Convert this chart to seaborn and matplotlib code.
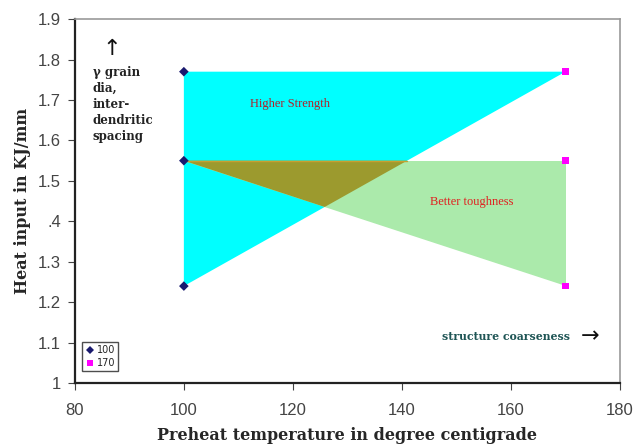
import numpy as np
import pandas as pd
import seaborn as sns
import matplotlib.pyplot as plt

# preheat temperatures and heat input levels
temps = [100, 170]
heat_inputs = [1.77, 1.55, 1.24]
y_ticks = [1.0, 1.1, 1.2, 1.3, 1.4, 1.5, 1.6, 1.7, 1.8, 1.9]
y_tick_labels = ["1", "1.1", "1.2", "1.3", ".4", "1.5", "1.6", "1.7", "1.8", "1.9"]
x_ticks = [80, 100, 120, 140, 160, 180]

sns.set_style("white")

df = pd.DataFrame({
    "temp": [t for t in temps for _ in heat_inputs],
    "heat": heat_inputs * len(temps),
    "series": [str(t) for t in temps for _ in heat_inputs],
})

fig = plt.figure(figsize=(6.34, 4.44), dpi=100)
ax = fig.add_axes([0.118, 0.137, 0.86, 0.82])

lo_t, hi_t = temps
top, mid, bot = heat_inputs

# high-strength region (cyan) and toughness region (green)
strength = np.array([[lo_t, top], [hi_t, top], [lo_t, bot]])
tough = np.array([[lo_t, mid], [hi_t, mid], [hi_t, bot]])
ax.fill(strength[:, 0], strength[:, 1], color="#00ffff", lw=0)
ax.fill(tough[:, 0], tough[:, 1], color="#abeaab", lw=0)

# overlap of the two regions
s1 = (top - bot) / (hi_t - lo_t)
s2 = (bot - mid) / (hi_t - lo_t)
x_a = lo_t + (mid - bot) / s1
x_b = lo_t + (mid - bot) / (s1 - s2)
y_b = bot + s1 * (x_b - lo_t)
ax.fill([lo_t, x_a, x_b], [mid, mid, y_b], color="#9c9a2e", lw=0)
ax.plot([lo_t, x_a], [mid, mid], color="#c8a030", lw=1)

sns.scatterplot(data=df, x="temp", y="heat", hue="series", style="series",
                palette={"100": "#1a1a6e", "170": "#ff00ff"},
                markers={"100": "D", "170": "s"}, s=24, linewidth=0, ax=ax, zorder=5)

ax.set_xlim(80, 180)
ax.set_ylim(1.0, 1.9)
ax.set_xticks(x_ticks)
ax.set_yticks(y_ticks)
ax.set_yticklabels(y_tick_labels)
ax.tick_params(axis="both", labelsize=12, colors="#444444", length=5, direction="out",
               left=True, bottom=True, pad=5)
ax.tick_params(axis="x", pad=9)
for lab in ax.get_xticklabels() + ax.get_yticklabels():
    lab.set_family(["Liberation Sans", "DejaVu Sans"])

for side in ["left", "bottom"]:
    ax.spines[side].set_color("#222222")
    ax.spines[side].set_linewidth(1.6)
for side in ["top", "right"]:
    ax.spines[side].set_color("#999999")
    ax.spines[side].set_linewidth(1.2)

serif = ["DejaVu Serif"]
ax.set_xlabel("Preheat temperature in degree centigrade", family=serif,
              fontweight="bold", fontsize=11.5, labelpad=7)
ax.set_ylabel("Heat input in KJ/mm", family=serif, fontweight="bold", fontsize=11.5, labelpad=5)

ax.text(119.5, 1.69, "Higher Strength", color="#b0202a", family=["Liberation Serif"], fontsize=9,
        ha="center", va="center")
ax.text(152.8, 1.447, "Better toughness", color="#e02020", family=["Liberation Serif"], fontsize=9,
        ha="center", va="center")
ax.text(86.7, 1.825, "\u2191", color="#111111", fontsize=16, ha="center", va="center")
ax.text(83.3, 1.785, "\u03b3 grain\ndia,\ninter-\ndendritic\nspacing", color="#222222",
        family=serif, fontweight="bold", fontsize=8.5, ha="left", va="top", linespacing=1.3)
ax.text(159, 1.115, "structure coarseness", color="#1f5555", family=serif,
        fontweight="bold", fontsize=7.8, ha="center", va="center")
ax.text(174.5, 1.115, "\u2192", color="#111111", fontsize=16, ha="center", va="center")

leg = ax.legend(loc="lower left", bbox_to_anchor=(0.005, 0.02), fontsize=7, frameon=True,
                fancybox=False, edgecolor="#222222", handletextpad=0.2, borderpad=0.3,
                labelspacing=0.3, handlelength=1.0, markerscale=0.9)
leg.get_frame().set_linewidth(1.0)

fig.savefig("out.png", dpi=100)
